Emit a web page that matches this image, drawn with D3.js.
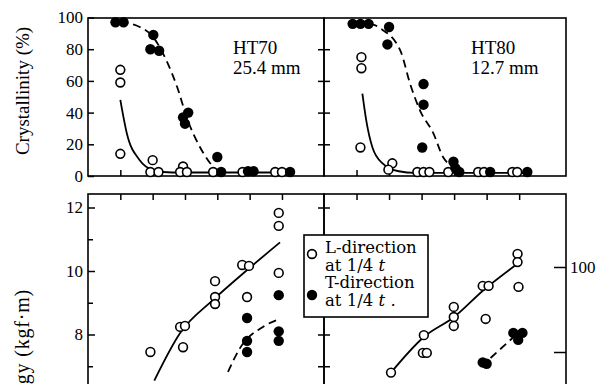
<!DOCTYPE html>
<html>
<head>
<meta charset="utf-8">
<script src="https://cdn.jsdelivr.net/npm/d3@7"></script>
<style>
  body { margin: 0; background: #fff; }
  svg { display: block; }
</style>
</head>
<body>
<div id="root"></div>
<script>
// tick values
const xTicks = [1, 2, 3, 4, 5, 6];
const crystTicks = [0, 20, 40, 60, 80, 100];
const energyMajor = [8, 10, 12];
const energyMinor = [7, 9, 11];
const shearTicks = [90, 100];

// HT70 25.4 mm - crystallinity (%)
const ht70CrystL = [[1.0, 67], [1.0, 59], [1.0, 14], [2.0, 10], [1.93, 2.5], [2.18, 2.5],
  [2.94, 6], [2.85, 2.5], [3.06, 2.5], [3.87, 2.5], [4.78, 2.5], [5.79, 2.5], [6.0, 2.5]];
const ht70CrystT = [[0.85, 97], [1.1, 97], [2.02, 89], [1.93, 80], [2.2, 79],
  [3.1, 40], [2.94, 37], [3.0, 33], [4.0, 12], [4.12, 2.5], [4.95, 3], [5.12, 3], [6.25, 2.5]];
const ht70CrystLCurve = [[1.0, 48], [1.2, 27], [1.6, 10], [2.0, 4], [2.6, 2.2], [6.0, 2.2]];
const ht70CrystTCurve = [[1.0, 97], [1.6, 94], [2.0, 88], [2.4, 74], [2.76, 56], [3.07, 36], [3.47, 18], [3.78, 8], [3.95, 4]];

// HT80 12.7 mm - crystallinity (%)
const ht80CrystL = [[1.15, 75], [1.15, 68], [1.12, 18], [2.1, 8], [1.98, 4],
  [2.87, 2.5], [3.06, 2.5], [3.24, 2.5], [3.82, 2.5], [4.74, 2.5], [4.92, 2.5], [5.79, 2.5], [5.94, 2.5]];
const ht80CrystT = [[0.88, 96], [1.12, 96], [1.37, 96], [2.0, 94], [1.95, 83],
  [3.06, 58], [3.06, 45], [3.02, 18], [3.98, 9], [4.04, 5], [4.16, 2.5], [5.11, 2.5], [6.25, 2.5]];
const ht80CrystLCurve = [[1.18, 52], [1.3, 35], [1.49, 18], [1.8, 8], [2.3, 3], [2.8, 2], [6.3, 2]];
const ht80CrystTCurve = [[1.0, 96], [1.5, 95.5], [1.74, 93], [2.35, 79], [2.65, 58], [2.96, 41], [3.36, 27], [3.66, 12], [3.93, 6]];

// HT70 - absorbed energy (kgf·m)
const ht70EnergyL = [[1.93, 7.45], [2.85, 8.24], [3.0, 8.27], [2.94, 7.6], [3.93, 9.68], [3.93, 9.18], [3.93, 8.96],
  [4.77, 10.19], [4.98, 10.16], [4.92, 9.18], [5.9, 11.83], [5.9, 11.42], [5.9, 9.94]];
const ht70EnergyT = [[4.92, 8.52], [4.92, 7.8], [4.92, 7.45], [5.9, 9.24], [5.9, 8.1], [5.9, 7.8]];
const ht70EnergyLCurve = [[2.05, 6.55], [2.85, 8.05], [3.87, 9.09], [4.92, 10.03], [5.94, 10.9]];
const ht70EnergyTCurve = [[4.33, 6.82], [4.7, 7.57], [5.41, 8.24], [5.85, 8.46]];

// HT80 - absorbed energy (kgf·m)
const ht80EnergyL = [[2.06, 6.8], [3.07, 7.98], [3.04, 7.42], [3.16, 7.42], [3.99, 8.87], [3.99, 8.55], [3.99, 8.27],
  [4.88, 9.53], [5.06, 9.53], [4.97, 8.49], [5.95, 10.54], [5.95, 10.28], [5.98, 9.5]];
const ht80EnergyT = [[4.88, 7.12], [5.0, 7.08], [5.82, 8.05], [6.1, 8.05], [5.97, 7.83]];
const ht80EnergyLCurve = [[2.06, 6.8], [3.07, 7.92], [4.0, 8.55], [4.91, 9.4], [5.98, 10.25]];
const ht80EnergyTCurve = [[5.12, 7.26], [5.83, 7.92]];

const width = 605, height = 384;
const serif = "'Liberation Serif', 'Times New Roman', serif";

const svg = d3.select("#root").append("svg")
  .attr("width", width)
  .attr("height", height);
svg.append("rect").attr("width", width).attr("height", height).attr("fill", "#fff");

// scales
const xLeft = d3.scaleLinear().domain([0, 7.3]).range([88, 324]);
const xRight = d3.scaleLinear().domain([0, 7.44]).range([324, 566]);
const yCryst = d3.scaleLinear().domain([0, 100]).range([176, 17.5]);
const yEnergy = d3.scaleLinear().domain([6, 12]).range([398, 207.5]);
const yShear = d3.scaleLinear().domain([90, 100]).range([352, 267]);

const panels = [
  { x: xLeft, y: yCryst, top: 18, bottom: 176, open: ht70CrystL, filled: ht70CrystT, solid: ht70CrystLCurve, dashed: ht70CrystTCurve },
  { x: xRight, y: yCryst, top: 18, bottom: 176, open: ht80CrystL, filled: ht80CrystT, solid: ht80CrystLCurve, dashed: ht80CrystTCurve },
  { x: xLeft, y: yEnergy, top: 194, bottom: 440, open: ht70EnergyL, filled: ht70EnergyT, solid: ht70EnergyLCurve, dashed: ht70EnergyTCurve },
  { x: xRight, y: yEnergy, top: 194, bottom: 440, open: ht80EnergyL, filled: ht80EnergyT, solid: ht80EnergyLCurve, dashed: ht80EnergyTCurve }
];

function styleAxis(g, labels) {
  g.select(".domain").remove();
  g.selectAll("line").attr("stroke", "#000").attr("stroke-width", 1.5);
  g.attr("font-family", serif).attr("font-size", 17);
  if (!labels) g.selectAll("text").remove();
  g.selectAll("text").attr("fill", "#000");
}

// axes / ticks
function addAxis(axis, tx, ty, labels) {
  const g = svg.append("g").attr("transform", `translate(${tx},${ty})`).call(axis);
  styleAxis(g, labels);
}

const fmt = d3.format("d");

// top row
addAxis(d3.axisLeft(yCryst).tickValues(crystTicks).tickFormat(fmt).tickSizeInner(-6).tickSizeOuter(0).tickPadding(5), 88, 0, true);
addAxis(d3.axisRight(yCryst).tickValues(crystTicks.slice(1, 5)).tickSizeInner(-6).tickSizeOuter(0), 324, 0, false);
addAxis(d3.axisLeft(yCryst).tickValues(crystTicks.slice(1, 5)).tickSizeInner(-6).tickSizeOuter(0), 324, 0, false);
addAxis(d3.axisBottom(xLeft).tickValues(xTicks).tickSizeInner(-6).tickSizeOuter(0), 0, 176, false);
addAxis(d3.axisBottom(xRight).tickValues(xTicks).tickSizeInner(-6).tickSizeOuter(0), 0, 176, false);

// bottom row
addAxis(d3.axisLeft(yEnergy).tickValues(energyMajor).tickFormat(fmt).tickSizeInner(-7).tickSizeOuter(0).tickPadding(5), 88, 0, true);
addAxis(d3.axisLeft(yEnergy).tickValues(energyMinor).tickSizeInner(-5).tickSizeOuter(0), 88, 0, false);
addAxis(d3.axisRight(yEnergy).tickValues(energyMajor.concat([7])).tickSizeInner(-6).tickSizeOuter(0), 324, 0, false);
addAxis(d3.axisLeft(yEnergy).tickValues(energyMajor.concat([7])).tickSizeInner(-6).tickSizeOuter(0), 324, 0, false);
addAxis(d3.axisTop(xLeft).tickValues(xTicks).tickSizeInner(-6).tickSizeOuter(0), 0, 194, false);
addAxis(d3.axisTop(xRight).tickValues(xTicks).tickSizeInner(-6).tickSizeOuter(0), 0, 194, false);
addAxis(d3.axisRight(yShear).tickValues(shearTicks).tickSizeInner(-12).tickSizeOuter(0).tickPadding(4)
  .tickFormat(d => d === 100 ? "100" : ""), 566, 0, true);

// panel frames, curves, points
panels.forEach(p => {
  const [x0, x1] = p.x.range();
  svg.append("rect")
    .attr("x", x0).attr("y", p.top)
    .attr("width", x1 - x0).attr("height", p.bottom - p.top)
    .attr("fill", "none").attr("stroke", "#000").attr("stroke-width", 1.6);

  const line = d3.line()
    .x(d => p.x(d[0]))
    .y(d => p.y(d[1]))
    .curve(d3.curveMonotoneX);

  svg.append("path").datum(p.solid)
    .attr("fill", "none").attr("stroke", "#000").attr("stroke-width", 1.8)
    .attr("d", line);
  svg.append("path").datum(p.dashed)
    .attr("fill", "none").attr("stroke", "#000").attr("stroke-width", 1.8)
    .attr("stroke-dasharray", "8,5")
    .attr("d", line);

  svg.append("g").selectAll("circle").data(p.open).join("circle")
    .attr("cx", d => p.x(d[0])).attr("cy", d => p.y(d[1])).attr("r", 4.4)
    .attr("fill", "#fff").attr("stroke", "#000").attr("stroke-width", 1.6);
  svg.append("g").selectAll("circle").data(p.filled).join("circle")
    .attr("cx", d => p.x(d[0])).attr("cy", d => p.y(d[1])).attr("r", 5.2)
    .attr("fill", "#000");
});

// panel titles
const titles = [
  { x: 233, lines: ["HT70", "25.4 mm"] },
  { x: 471, lines: ["HT80", "12.7 mm"] }
];
titles.forEach(t => {
  t.lines.forEach((s, i) => {
    svg.append("text").attr("x", t.x).attr("y", 54 + i * 20)
      .attr("font-family", serif).attr("font-size", 19).text(s);
  });
});

// axis titles
svg.append("text")
  .attr("transform", "translate(29,91) rotate(-90)")
  .attr("text-anchor", "middle")
  .attr("font-family", serif).attr("font-size", 19)
  .text("Crystallinity (%)");
svg.append("text")
  .attr("transform", "translate(29,289) rotate(-90)")
  .attr("text-anchor", "end")
  .attr("font-family", serif).attr("font-size", 20)
  .attr("letter-spacing", 0.8)
  .text("Absorbed energy (kgf·m)");

// legend
const legend = svg.append("g").attr("transform", "translate(304,235)");
legend.append("rect").attr("width", 124).attr("height", 82)
  .attr("fill", "#fff").attr("stroke", "#000").attr("stroke-width", 1.6);
legend.append("circle").attr("cx", 8).attr("cy", 19).attr("r", 4.4)
  .attr("fill", "#fff").attr("stroke", "#000").attr("stroke-width", 1.6);
legend.append("circle").attr("cx", 8).attr("cy", 60).attr("r", 5.2).attr("fill", "#000");
const legendLines = [["L-direction", ""], ["at 1/4 ", "t"], ["T-direction", ""], ["at 1/4 ", "t ."]];
legendLines.forEach((s, i) => {
  const t = legend.append("text").attr("x", 21).attr("y", 18 + i * 17.5)
    .attr("font-family", "'DejaVu Serif', serif").attr("font-size", 16.5);
  t.append("tspan").text(s[0]);
  if (s[1]) t.append("tspan").attr("font-style", "italic").text(s[1]);
});
</script>
</body>
</html>
